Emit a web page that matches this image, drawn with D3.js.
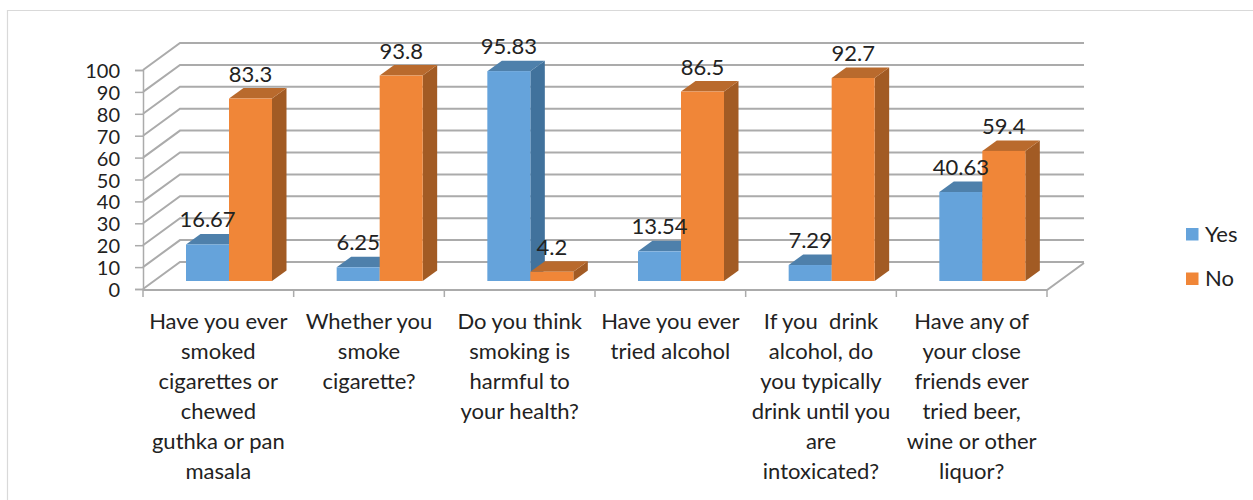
<!DOCTYPE html>
<html><head><meta charset="utf-8">
<script src="https://cdn.jsdelivr.net/npm/d3@7"></script>
<style>
html,body{margin:0;padding:0;background:#fff;overflow:hidden}
text{font-family:Lato,"Open Sans",sans-serif;fill:#222}
</style></head><body><svg id="c" width="1253" height="500"></svg>
<script>
const categoryLines = [
  ["Have you ever","smoked","cigarettes or","chewed","guthka or pan","masala"],
  ["Whether you","smoke","cigarette?"],
  ["Do you think","smoking is","harmful to","your health?"],
  ["Have you ever","tried alcohol"],
  ["If you  drink","alcohol, do","you typically","drink until you","are","intoxicated?"],
  ["Have any of","your close","friends ever","tried beer,","wine or other","liquor?"]
];
const yesValues = [16.67, 6.25, 95.83, 13.54, 7.29, 40.63];
const noValues = [83.3, 93.8, 4.2, 86.5, 92.7, 59.4];
const yesLabels = ["16.67","6.25","95.83","13.54","7.29","40.63"];
const noLabels = ["83.3","93.8","4.2","86.5","92.7","59.4"];
const yTicks = [0,10,20,30,40,50,60,70,80,90,100];
const seriesNames = ["Yes","No"];

const blue = {front:"#65A3DB", top:"#4E80AB", side:"#41729C"};
const orange = {front:"#F08638", top:"#B96A2D", side:"#A25B24"};
const gridColor = "#ABABAB";

const svg = d3.select("#c");
const fs = 22;
const depthX = 37, depthY = -27;      // axis-box depth
const barDX = 14.5, barDY = -10.5;    // bar depth

const x = d3.scaleBand().domain(d3.range(categoryLines.length)).range([143,1047]);
const yAxisScale = d3.scaleLinear().domain([0,100]).range([289,70]);
const yBar = d3.scaleLinear().domain([0,100]).range([281,62]);
const barW = 43, barInset = 43;

// outer frame
svg.append("path").attr("d","M7.5,500V10.5H1253").attr("fill","none").attr("stroke","#D9D9D9").attr("stroke-width",1.2);

// gridlines (side wall + back wall)
const line = d3.line();
svg.append("g").selectAll("path").data(yTicks).join("path")
  .attr("d", v => { const y = yAxisScale(v);
    return line([[143,y],[143+depthX,y+depthY],[x.range()[1]+depthX,y+depthY]]); })
  .attr("fill","none").attr("stroke",gridColor).attr("stroke-width",2);

// floor front edge, right edge, category ticks
svg.append("path").attr("d", line([[143,290],[x.range()[1],290],[x.range()[1]+depthX,290+depthY]]))
  .attr("fill","none").attr("stroke",gridColor).attr("stroke-width",2);
svg.append("g").selectAll("line").data(d3.range(categoryLines.length+1)).join("line")
  .attr("x1", i => i<categoryLines.length ? x(i) : x.range()[1])
  .attr("x2", i => i<categoryLines.length ? x(i) : x.range()[1])
  .attr("y1",289).attr("y2",297).attr("stroke",gridColor).attr("stroke-width",1.5);

// y axis
const yAxis = d3.axisLeft(yAxisScale).tickValues(yTicks).tickSize(8).tickPadding(15).tickFormat(d3.format("d"));
const yg = svg.append("g").attr("transform","translate(143,0)").call(yAxis);
yg.selectAll("path,line").attr("stroke",gridColor).attr("stroke-width",1.5);
yg.selectAll("text").attr("font-size",20).attr("dy","1.05em").attr("style","font-family:Lato;fill:#222")
  .attr("transform","translate(0,-13.5)");

// bars
function drawBar(g, bx, v, c){
  const t = yBar(v), b = yBar(0), w = barW;
  g.append("path").attr("fill",c.side)
    .attr("d", line([[bx+w,t],[bx+w+barDX,t+barDY],[bx+w+barDX,b+barDY],[bx+w,b]])+"Z");
  g.append("path").attr("fill",c.top)
    .attr("d", line([[bx,t],[bx+barDX,t+barDY],[bx+w+barDX,t+barDY],[bx+w,t]])+"Z");
  g.append("rect").attr("x",bx).attr("y",t).attr("width",w).attr("height",b-t).attr("fill",c.front);
}
const bars = svg.append("g");
categoryLines.forEach((_,i)=>{
  const x0 = x(i)+barInset;
  drawBar(bars, x0, yesValues[i], blue);
  drawBar(bars, x0+barW, noValues[i], orange);
});

// data labels
const labels = svg.append("g").attr("font-size",fs).attr("text-anchor","middle");
categoryLines.forEach((_,i)=>{
  const x0 = x(i)+barInset;
  labels.append("text").attr("x",x0+barW/2).attr("y",yBar(yesValues[i])-17).text(yesLabels[i]);
  labels.append("text").attr("x",x0+barW*1.5).attr("y",yBar(noValues[i])-17).text(noLabels[i]);
});

// category labels
const cats = svg.append("g").attr("font-size",fs).attr("text-anchor","middle");
categoryLines.forEach((lines,i)=>{
  lines.forEach((s,j)=>{
    cats.append("text").attr("x",x(i)+x.bandwidth()/2).attr("y",329+j*30).attr("xml:space","preserve").text(s);
  });
});

// legend
const legend = svg.append("g");
seriesNames.forEach((n,i)=>{
  const ly = 228+i*44.5;
  legend.append("rect").attr("x",1186).attr("y",ly).attr("width",12.5).attr("height",12.5).attr("fill",i?orange.front:blue.front);
  legend.append("text").attr("x",1205).attr("y",ly+13.5).attr("font-size",fs).text(n);
});
</script></body></html>
